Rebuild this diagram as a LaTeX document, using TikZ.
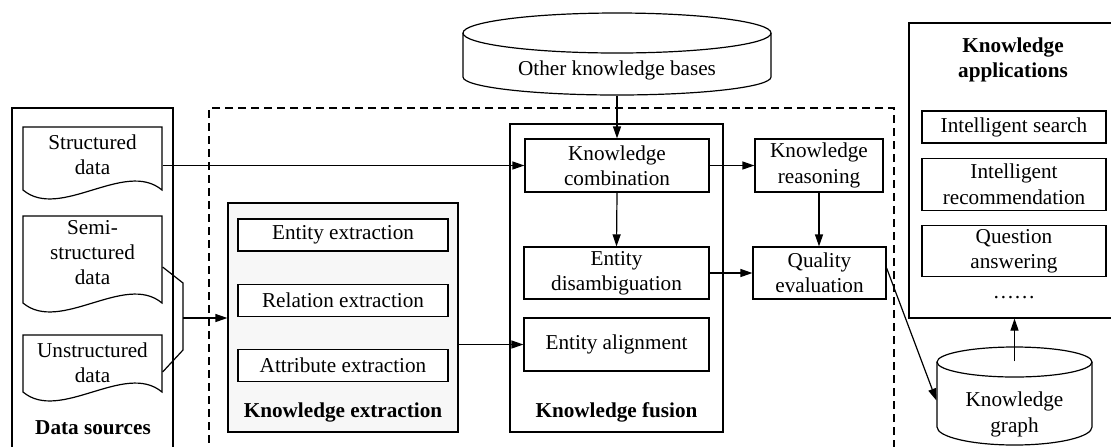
\documentclass[tikz,border=0pt]{standalone}
\usepackage{fontspec}
\setmainfont{Liberation Serif}
\usetikzlibrary{arrows.meta, positioning, calc}

\begin{document}
\begin{tikzpicture}[
    x=0.5pt, y=-0.5pt,
    font=\fontsize{10.6}{12.6}\selectfont,
    line width=0.6pt,
    box/.style={rectangle, draw, fill=white, align=center, inner sep=1pt},
    group/.style={rectangle, draw, inner sep=0pt},
    title/.style={font=\fontsize{10.6}{12.6}\selectfont\bfseries, align=center},
    doc/.style={rectangle, minimum width=69.5pt, align=center, inner sep=0pt},
    store/.style={rectangle, align=center, inner sep=0pt},
    arrow/.style={-{Triangle[length=6pt,width=4pt]}}
]
\useasboundingbox (0,0) rectangle (1111,446);

% containers
\node[group, minimum width=80.5pt, minimum height=172pt] (ds) at (92.5,280) {};
\node[group, dash pattern=on 4pt off 2.5pt, minimum width=342.5pt, minimum height=172pt] (build) at (551.5,280) {};
\node[group, fill=gray!6, minimum width=115pt, minimum height=114.5pt] (kex) at (343,317.5) {};
\node[group, minimum width=106.5pt, minimum height=154pt] (kfu) at (616.5,278) {};
\node[group, minimum width=105pt, minimum height=147.5pt] (apps) at (1014,170.5) {};

% data sources
\foreach \t/\b in {127/190, 216/303, 335/392}
    \draw (23,\t) -- (162,\t) -- (162,\b) .. controls (125,\b-31) and (60,\b+31) .. (23,\b) -- cycle;
\node[doc] (sd) at (92.5,154.5) {Structured\\data};
\node[doc] (ssd) at (92.5,252.5) {Semi-\\structured\\data};
\node[doc] (usd) at (92.5,362.5) {Unstructured\\data};
\node[title] (dsl) at (93,428) {Data sources};

% knowledge extraction
\node[box, minimum width=105pt, minimum height=16pt] (ee) at (343,235) {Entity extraction};
\node[box, minimum width=105pt, minimum height=16pt, below=16pt of ee] (re) {Relation extraction};
\node[box, minimum width=105pt, minimum height=16pt, below=16pt of re] (ae) {Attribute extraction};
\node[title] (kexl) at (343,412) {Knowledge extraction};

% knowledge fusion
\node[box, minimum width=92pt, minimum height=26.5pt] (comb) at (617,165.5) {Knowledge\\combination};
\node[box, minimum width=92.5pt, minimum height=26pt] (dis) at (616.5,273) {Entity\\disambiguation};
\node[box, minimum width=92.5pt, minimum height=26.5pt] (ali) at (616.5,344.5) {Entity alignment};
\node[title] (kful) at (616.5,412) {Knowledge fusion};
\node[box, minimum width=64pt, minimum height=26.5pt] (rea) at (819,165.5) {Knowledge\\reasoning};
\node[box, minimum width=66.5pt, minimum height=26pt] (qua) at (819.5,273) {Quality\\evaluation};

% knowledge bases
\draw (463,33) -- (463,77) arc[start angle=180, end angle=0, x radius=154, y radius=18] -- (771,33);
\draw (617,33) ellipse[x radius=154, y radius=20];
\node[store, minimum width=154pt, minimum height=25pt] (okb) at (617,70) {Other knowledge bases};
\draw (937,362) -- (937,427) arc[start angle=180, end angle=0, x radius=77.5, y radius=18] -- (1092,362);
\draw (1014.5,362) ellipse[x radius=77.5, y radius=15];
\node[store, minimum width=77.5pt, minimum height=52.5pt] (kg) at (1014.5,414.5) {Knowledge\\graph};

% knowledge applications
\node[title] (appl) at (1013,60) {Knowledge\\applications};
\node[box, minimum width=92pt, minimum height=16pt] (is) at (1014,127) {Intelligent search};
\node[box, minimum width=92pt, minimum height=26pt, below=7pt of is] (ir) {Intelligent\\recommendation};
\node[box, minimum width=92pt, minimum height=25.5pt, below=7pt of ir] (qa) {Question\\answering};
\node (more) at (1014,298) {……};

% connectors
\coordinate (j1) at (183,283);
\coordinate (j2) at (183,350);
\coordinate (jm) at (183,318);
\draw ([yshift=-7.25pt]ssd.east) -- (j1) -- (j2) -- ([yshift=-4.75pt]usd.east);
\draw[arrow] (jm) -- (jm -| kex.west);
\draw[arrow] (comb.west -| sd.east) -- (comb.west);
\draw[arrow] (kex.east |- ali.west) -- (ali.west);
\draw[arrow] (okb.south) -- (comb.north);
\draw[arrow] (comb.south) -- (dis.north);
\draw[arrow] (comb.east) -- (rea.west);
\draw[arrow] (rea.south) -- (rea.south |- qua.north);
\draw[arrow] (dis.east) -- (qua.west);
\draw[arrow] ([yshift=2.5pt]qua.east) -- ([yshift=7pt]kg.west);
\draw[arrow] (kg.north) -- (kg.north |- apps.south);

\end{tikzpicture}
\end{document}
